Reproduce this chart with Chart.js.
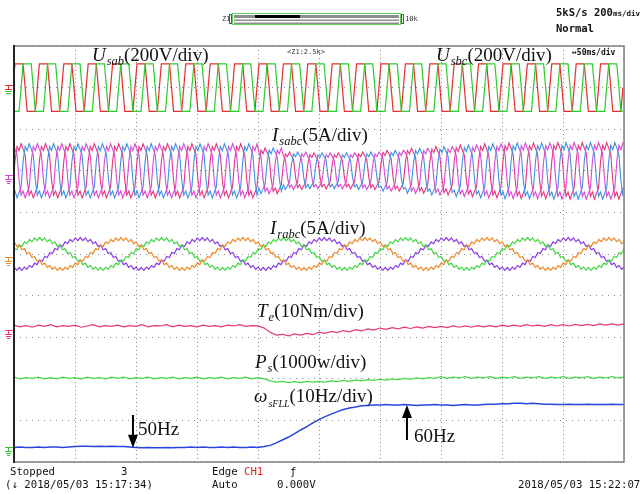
<!DOCTYPE html>
<html>
<head>
<meta charset="utf-8">
<script src="https://cdn.jsdelivr.net/npm/chart.js@4.4.0/dist/chart.umd.min.js"></script>
<style>
  html, body { margin: 0; padding: 0; background: #fff; }
  #wrap { width: 642px; height: 494px; }
</style>
</head>
<body>
<div id="wrap"><canvas id="scope" width="642" height="494"></canvas></div>
<script>
// ============ scope capture: 10 div x 50 ms, 10 div vertical (values in div) ============
const X_MAX = 500;

// stator line voltages: start of each red high plateau (ms), one-cycle shape
const usCycles = [-19.2, 0.8, 20.8, 40.8, 60.8, 80.8, 100.8, 120.8, 140.8, 160.8, 180.8,
  200.8, 220.8, 240.8, 260.8, 280.8, 300.8, 320.8, 340.8, 360.8, 380.8,
  400.8, 420.8, 440.8, 460.8, 480.8, 500.8];
const usShape = [1, 1, 1, 1, 1, 0, -1, -1, -1, -1, -1, 0];
const usAmp = 0.57;

// stator currents: one-cycle shape and amplitude per cycle
const isShape = [0.35, 0.90, 0.75, 1.00, 0.80, 0.60, -0.35, -0.90, -0.75, -1.00, -0.80, -0.60];
const isAmp = [0.65, 0.65, 0.65, 0.65, 0.65, 0.65, 0.65, 0.65, 0.65, 0.65, 0.65,
  0.55, 0.45, 0.43, 0.43, 0.45, 0.49, 0.54, 0.58, 0.62, 0.65,
  0.67, 0.67, 0.68, 0.68, 0.68];

// rotor currents: upward zero crossings of the green phase (ms), shape with ripple
const irCycles = [-4, 96, 196, 296, 396, 496, 596];
const irShape = [0.10, 0.03, 0.36, 0.28, 0.60, 0.51, 0.81, 0.69, 0.97, 0.82, 1.07, 0.89,
  1.10, 0.89, 1.07, 0.82, 0.97, 0.69, 0.81, 0.51, 0.60, 0.28, 0.36, 0.03,
  0.10, -0.23, -0.16, -0.48, -0.40, -0.71, -0.61, -0.89, -0.77, -1.02, -0.87, -1.09,
  -0.90, -1.09, -0.87, -1.02, -0.77, -0.89, -0.61, -0.71, -0.40, -0.48, -0.16, -0.23];
const irAmp = 0.36;

// slow channels, one value every 5 ms (div)
const STEP = 5;
const teVals = [-1.71, -1.75, -1.72, -1.76, -1.71, -1.74, -1.70, -1.75, -1.72, -1.74,
  -1.71, -1.76, -1.73, -1.70, -1.75, -1.72, -1.74, -1.71, -1.75, -1.72,
  -1.74, -1.70, -1.75, -1.72, -1.73, -1.70, -1.75, -1.71, -1.74, -1.72,
  -1.75, -1.71, -1.74, -1.72, -1.75, -1.71, -1.73, -1.70, -1.74, -1.72,
  -1.73, -1.78, -1.88, -1.95, -1.93, -1.97, -1.92, -1.95, -1.91, -1.94,
  -1.88, -1.91, -1.86, -1.89, -1.84, -1.87, -1.82, -1.85, -1.80, -1.83,
  -1.78, -1.81, -1.77, -1.80, -1.76, -1.79, -1.75, -1.78, -1.74, -1.77,
  -1.74, -1.77, -1.73, -1.76, -1.73, -1.76, -1.72, -1.75, -1.72, -1.75,
  -1.71, -1.74, -1.71, -1.74, -1.70, -1.73, -1.71, -1.74, -1.70, -1.73,
  -1.70, -1.73, -1.69, -1.72, -1.69, -1.72, -1.68, -1.71, -1.68, -1.71, -1.68];
const psVals = [-2.96, -3.00, -2.97, -2.99, -2.96, -3.00, -2.97, -3.00, -2.96, -2.99,
  -2.97, -3.00, -2.96, -2.99, -2.97, -3.00, -2.96, -2.99, -2.96, -3.00,
  -2.97, -2.99, -2.96, -3.00, -2.97, -2.99, -2.96, -3.00, -2.97, -2.99,
  -2.96, -3.00, -2.97, -2.99, -2.96, -3.00, -2.97, -2.99, -2.96, -3.00,
  -2.97, -3.00, -3.05, -3.08, -3.06, -3.09, -3.07, -3.09, -3.06, -3.08,
  -3.06, -3.08, -3.05, -3.07, -3.04, -3.06, -3.03, -3.05, -3.02, -3.04,
  -3.01, -3.03, -3.00, -3.02, -2.99, -3.01, -2.98, -3.00, -2.97, -2.99,
  -2.95, -2.99, -2.96, -2.98, -2.95, -2.99, -2.96, -2.98, -2.95, -2.99,
  -2.96, -2.98, -2.95, -2.99, -2.96, -2.98, -2.95, -2.99, -2.96, -2.98,
  -2.95, -2.99, -2.96, -2.98, -2.95, -2.99, -2.96, -2.98, -2.95, -2.98, -2.96];
const wVals = [-4.65, -4.64, -4.65, -4.65, -4.64, -4.65, -4.64, -4.64, -4.65, -4.64,
  -4.63, -4.62, -4.62, -4.63, -4.62, -4.63, -4.62, -4.63, -4.63, -4.64,
  -4.65, -4.66, -4.65, -4.66, -4.66, -4.65, -4.66, -4.65, -4.65, -4.64,
  -4.65, -4.64, -4.65, -4.65, -4.64, -4.65, -4.64, -4.65, -4.65, -4.64,
  -4.65, -4.63, -4.60, -4.54, -4.47, -4.40, -4.32, -4.23, -4.15, -4.06,
  -3.98, -3.91, -3.85, -3.79, -3.74, -3.70, -3.68, -3.65, -3.64, -3.63,
  -3.63, -3.62, -3.63, -3.63, -3.62, -3.63, -3.64, -3.63, -3.63, -3.62,
  -3.63, -3.63, -3.64, -3.63, -3.62, -3.63, -3.63, -3.62, -3.61, -3.61,
  -3.60, -3.60, -3.59, -3.59, -3.60, -3.59, -3.60, -3.61, -3.61, -3.62,
  -3.62, -3.61, -3.62, -3.62, -3.61, -3.62, -3.62, -3.62, -3.61, -3.62, -3.62];

// channel zero levels (div) and ground-marker colours at the left edge
const zeroLevels = [4.06, 1.90, -0.07, -1.83, -4.64];
const zeroColors = ['#e62e2e', '#d848d8', '#ee8a2a', '#e8347a', '#33c833'];

const C = {
  red: '#e62e2e', green: '#2fcc2f',
  pink: '#e8347e', blue: '#3f8fe8', magenta: '#d848d8',
  orange: '#ee8a2a', lime: '#44d644', purple: '#8a3ee6',
  wblue: '#2845e0'
};

// place a read one-cycle shape on each read cycle span
function tile(cycles, shape, shift, amp, zero) {
  const pts = [];
  const n = shape.length;
  for (let c = 0; c < cycles.length - 1; c++) {
    const t0 = cycles[c], dt = (cycles[c + 1] - t0) / n;
    const a = Array.isArray(amp) ? amp[c] : amp;
    for (let k = 0; k < n; k++) {
      pts.push({ x: t0 + k * dt, y: zero + a * shape[(k - shift + n) % n] });
    }
  }
  return pts;
}
const series = vals => vals.map((v, i) => ({ x: i * STEP, y: v }));

function ds(data, color, w) {
  return { data, borderColor: color, borderWidth: w || 1.2, pointRadius: 0, tension: 0, fill: false };
}

const datasets = [
  ds(tile(usCycles, usShape, 4, usAmp, 4.0), C.green),
  ds(tile(usCycles, usShape, 0, usAmp, 4.0), C.red),
  ds(tile(usCycles, isShape, 8, isAmp, 2.0), C.magenta, 1.1),
  ds(tile(usCycles, isShape, 4, isAmp, 2.0), C.blue, 1.1),
  ds(tile(usCycles, isShape, 0, isAmp, 2.0), C.pink, 1.1),
  ds(tile(irCycles, irShape, 32, irAmp, 0), C.orange),
  ds(tile(irCycles, irShape, 0, irAmp, 0), C.lime),
  ds(tile(irCycles, irShape, 16, irAmp, 0), C.purple),
  ds(series(teVals), C.pink),
  ds(series(psVals), C.lime),
  ds(series(wVals), C.wblue, 1.5)
];

// text labels anchored in data space (ms, div)
const SERIF = '"Liberation Serif", "Times New Roman", serif';
const labels = [
  { t: 63.9, v: 4.64, parts: [['U', 'it'], ['sab', 'sub'], ['(200V/div)', 'rm']] },
  { t: 345.9, v: 4.64, parts: [['U', 'it'], ['sbc', 'sub'], ['(200V/div)', 'rm']] },
  { t: 211.5, v: 2.72, parts: [['I', 'it'], ['sabc', 'sub'], ['(5A/div)', 'rm']] },
  { t: 209.8, v: 0.48, parts: [['I', 'it'], ['rabc', 'sub'], ['(5A/div)', 'rm']] },
  { t: 199.2, v: -1.51, parts: [['T', 'it'], ['e', 'sub'], ['(10Nm/div)', 'rm']] },
  { t: 197.5, v: -2.74, parts: [['P', 'it'], ['s', 'sub'], ['(1000w/div)', 'rm']] },
  { t: 196.7, v: -3.56, parts: [['\u03c9', 'it'], ['sFLL', 'sub2'], ['(10Hz/div)', 'rm']] },
  { t: 101.6, v: -4.35, parts: [['50Hz', 'rm']] },
  { t: 327.9, v: -4.52, parts: [['60Hz', 'rm']] }
];
const arrows = [
  { t: 97.5, from: -3.87, to: -4.66 },
  { t: 322.1, from: -4.47, to: -3.63 }
];
const FONTS = {
  it: ['italic 19px ' + SERIF, 0],
  rm: ['19px ' + SERIF, 0],
  sub: ['italic 12.5px ' + SERIF, 4],
  sub2: ['italic 10px ' + SERIF, 5]
};

const scopeFrame = {
  id: 'scopeFrame',
  afterDatasetsDraw(chart) {
    const { ctx, chartArea: a, scales: { y } } = chart;
    ctx.save();
    ctx.strokeStyle = '#7d7d7d';
    ctx.lineWidth = 1.5;
    ctx.strokeRect(a.left, a.top, a.right - a.left, a.bottom - a.top);
    ctx.strokeStyle = '#222';
    ctx.lineWidth = 2;
    ctx.beginPath();
    ctx.moveTo(a.left, a.top - 1);
    ctx.lineTo(a.left, a.bottom + 1);
    ctx.stroke();
    // ground markers
    ctx.lineWidth = 1;
    zeroLevels.forEach((v, i) => {
      const py = Math.round(y.getPixelForValue(v)) + 0.5;
      ctx.strokeStyle = zeroColors[i];
      ctx.beginPath();
      ctx.moveTo(5, py); ctx.lineTo(13, py);
      ctx.moveTo(8.5, py); ctx.lineTo(8.5, py + 4);
      ctx.moveTo(5, py + 4); ctx.lineTo(12, py + 4);
      ctx.moveTo(6, py + 6); ctx.lineTo(11, py + 6);
      ctx.moveTo(7, py + 8); ctx.lineTo(10, py + 8);
      ctx.stroke();
    });
    // the Usab pair has a second (green) marker under the red one
    const pg = Math.round(y.getPixelForValue(zeroLevels[0])) + 3.5;
    ctx.strokeStyle = C.green;
    ctx.beginPath();
    ctx.moveTo(5, pg + 3); ctx.lineTo(12, pg + 3);
    ctx.moveTo(6, pg + 5); ctx.lineTo(11, pg + 5);
    ctx.stroke();
    ctx.restore();
  }
};

const scopeLabels = {
  id: 'scopeLabels',
  afterDraw(chart) {
    const { ctx, scales: { x, y } } = chart;
    ctx.save();
    ctx.fillStyle = '#111';
    ctx.textBaseline = 'alphabetic';
    labels.forEach(l => {
      let px = x.getPixelForValue(l.t);
      const py = y.getPixelForValue(l.v);
      l.parts.forEach(([txt, kind]) => {
        const [font, dy] = FONTS[kind];
        ctx.font = font;
        ctx.fillText(txt, px, py + dy);
        px += ctx.measureText(txt).width + (kind === 'it' ? 1 : 0);
      });
    });
    ctx.strokeStyle = '#000';
    ctx.fillStyle = '#000';
    ctx.lineWidth = 2;
    arrows.forEach(a => {
      const px = x.getPixelForValue(a.t);
      const p0 = y.getPixelForValue(a.from), p1 = y.getPixelForValue(a.to);
      const dir = p1 > p0 ? 1 : -1;
      ctx.beginPath();
      ctx.moveTo(px, p0);
      ctx.lineTo(px, p1 - dir * 10);
      ctx.stroke();
      ctx.beginPath();
      ctx.moveTo(px, p1);
      ctx.lineTo(px - 5, p1 - dir * 13);
      ctx.lineTo(px + 5, p1 - dir * 13);
      ctx.closePath();
      ctx.fill();
    });
    ctx.restore();
  }
};

const MONO = '"DejaVu Sans Mono", "Liberation Mono", monospace';
const scopeChrome = {
  id: 'scopeChrome',
  afterDraw(chart) {
    const { ctx, chartArea: a } = chart;
    ctx.save();
    ctx.textBaseline = 'alphabetic';
    // zoom bar
    ctx.fillStyle = '#333';
    ctx.font = '7px ' + MONO;
    ctx.fillText('Z1', 222, 21);
    ctx.fillText('10k', 405, 21);
    ctx.fillStyle = '#8e8e8e';
    ctx.fillRect(234, 15, 165, 3);
    ctx.fillRect(234, 19.5, 165, 1.5);
    ctx.fillRect(234, 22.5, 165, 1.5);
    ctx.fillStyle = '#000';
    ctx.fillRect(255, 15, 45, 3);
    ctx.strokeStyle = '#5cd65c';
    ctx.lineWidth = 1;
    ctx.strokeRect(232.5, 13.5, 168, 11);
    ctx.strokeStyle = '#555';
    ctx.strokeRect(229.5, 14.5, 2, 9);
    ctx.strokeRect(401.5, 14.5, 2, 9);
    // acquisition text
    ctx.fillStyle = '#111';
    ctx.font = 'bold 10.5px ' + MONO;
    ctx.fillText('5kS/s 200', 556, 16);
    ctx.font = 'bold 7.5px ' + MONO;
    ctx.fillText('ms/div', 613, 16);
    ctx.font = 'bold 10.5px ' + MONO;
    ctx.fillText('Normal', 556, 32);
    // in-frame notes
    ctx.font = '7px ' + MONO;
    ctx.fillStyle = '#333';
    ctx.fillText('<Z1:2.5k>', 287, a.top + 8);
    ctx.font = 'bold 8px ' + MONO;
    ctx.fillStyle = '#111';
    ctx.fillText('\u219450ms/div', a.right - 52, a.top + 9);
    // status line
    ctx.font = '10.7px ' + MONO;
    ctx.fillStyle = '#111';
    ctx.fillText('Stopped', 10, 475);
    ctx.fillText('3', 121, 475);
    ctx.fillText('Edge', 212, 475);
    ctx.fillStyle = '#e02020';
    ctx.fillText('CH1', 244, 475);
    ctx.fillStyle = '#111';
    ctx.fillText('\u0192', 290, 475);
    ctx.fillText('(\u2193 2018/05/03 15:17:34)', 5, 488);
    ctx.fillText('Auto', 212, 488);
    ctx.fillText('0.000V', 277, 488);
    ctx.fillText('2018/05/03 15:22:07', 518, 488);
    ctx.restore();
  }
};

new Chart(document.getElementById('scope'), {
  type: 'line',
  data: { datasets },
  options: {
    responsive: false,
    animation: false,
    events: [],
    layout: { padding: { left: 14, top: 46, right: 18, bottom: 32 } },
    plugins: { legend: { display: false }, tooltip: { enabled: false } },
    scales: {
      x: {
        type: 'linear', min: 0, max: X_MAX,
        ticks: { display: false, stepSize: 50 },
        grid: { color: '#8a8a8a', lineWidth: 1, drawTicks: false },
        border: { display: false, dash: [1, 3] }
      },
      y: {
        type: 'linear', min: -5, max: 5,
        ticks: { display: false, stepSize: 1 },
        grid: { color: '#8a8a8a', lineWidth: 1, drawTicks: false },
        border: { display: false, dash: [1, 5] }
      }
    }
  },
  plugins: [scopeFrame, scopeLabels, scopeChrome]
});
</script>
</body>
</html>
